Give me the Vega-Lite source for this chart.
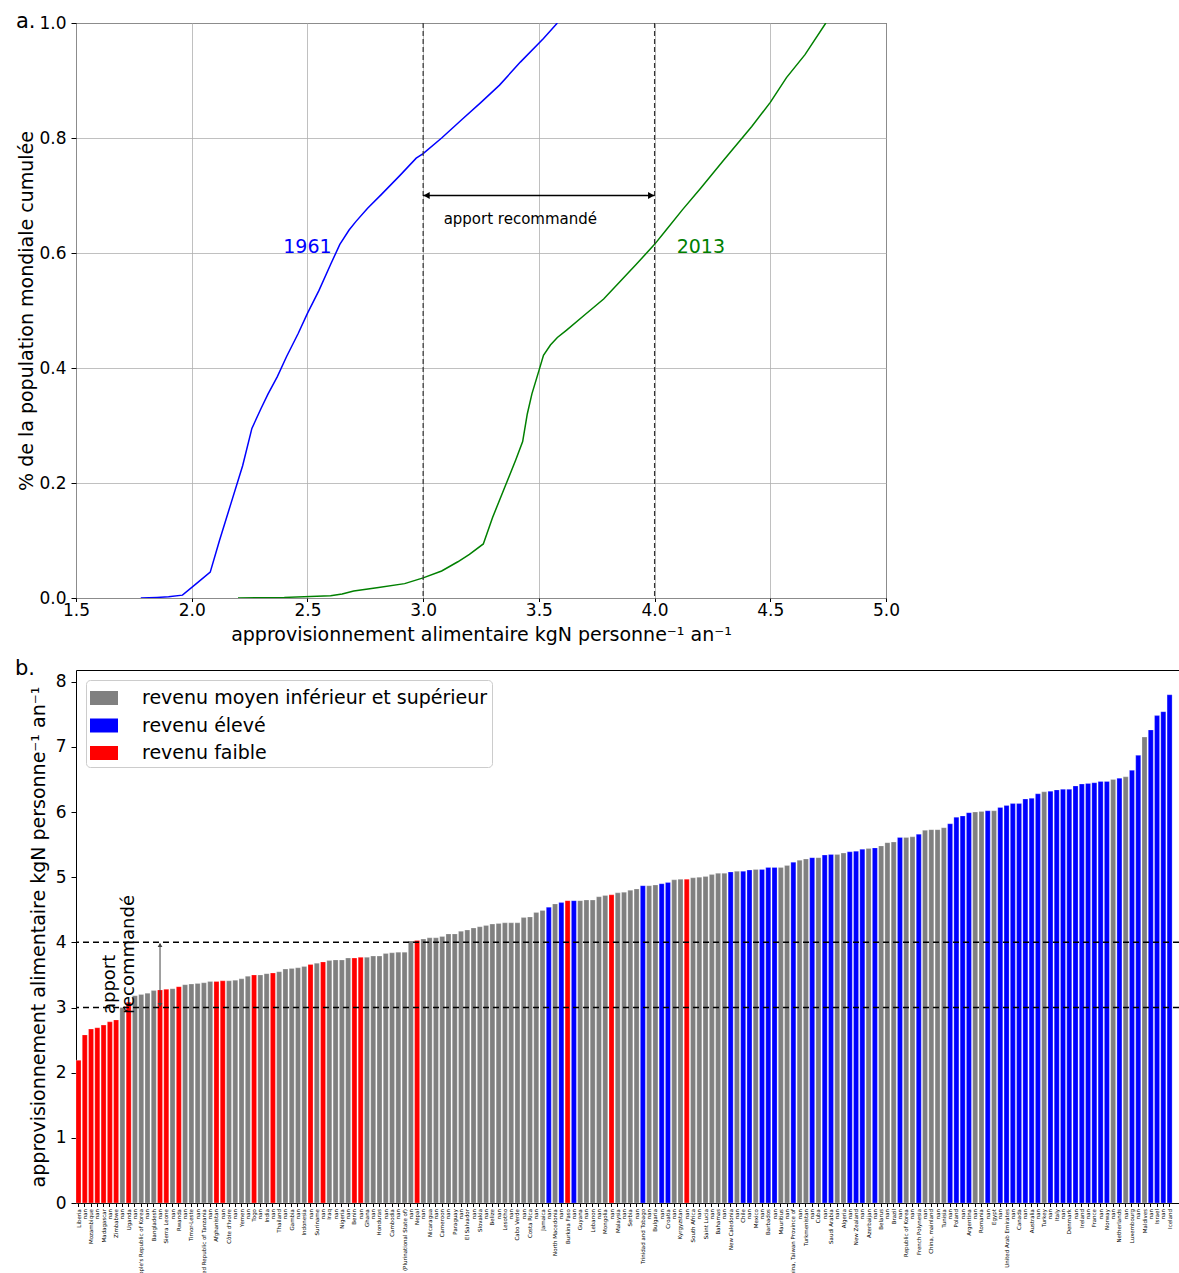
{
  "$schema": "https://vega.github.io/schema/vega-lite/v6.json",
  "padding": {"left": 14, "top": 10, "right": 0, "bottom": 0},
  "bounds": "flush",
  "spacing": 72,
  "resolve": {"scale": {"color": "independent", "x": "independent", "y": "independent"}, "legend": {"color": "independent"}},
  "config": {
    "font": "DejaVu Sans",
    "view": {"stroke": "black", "strokeWidth": 1},
    "axis": {"domain": false, "labelFlush": false, "tickColor": "black", "tickSize": 3.5, "tickWidth": 1, "labelColor": "black", "titleColor": "black", "labelFontSize": 17, "titleFontSize": 19, "titleFontWeight": "normal", "labelPadding": 3.5, "gridColor": "#b0b0b0", "gridWidth": 0.8},
    "axisY": {"tickSize": 5, "labelPadding": 5},
    "title": {"fontSize": 21, "fontWeight": "normal", "color": "black"}
  },
  "vconcat": [
    {
      "width": 810,
      "height": 575,
      "title": {"text": "a.", "anchor": "start", "frame": "group", "dx": -60, "offset": -18},
      "layer": [
        {
          "data": {"values": [
            {"year": "1961", "x": 1.78, "y": 0.0},
            {"year": "1961", "x": 1.85, "y": 0.001},
            {"year": "1961", "x": 1.9, "y": 0.002},
            {"year": "1961", "x": 1.96, "y": 0.005},
            {"year": "1961", "x": 2.02, "y": 0.025},
            {"year": "1961", "x": 2.08, "y": 0.045},
            {"year": "1961", "x": 2.12, "y": 0.1},
            {"year": "1961", "x": 2.17, "y": 0.165},
            {"year": "1961", "x": 2.22, "y": 0.23},
            {"year": "1961", "x": 2.26, "y": 0.295},
            {"year": "1961", "x": 2.3, "y": 0.33},
            {"year": "1961", "x": 2.33, "y": 0.355},
            {"year": "1961", "x": 2.37, "y": 0.385},
            {"year": "1961", "x": 2.41, "y": 0.42},
            {"year": "1961", "x": 2.46, "y": 0.46},
            {"year": "1961", "x": 2.5, "y": 0.495},
            {"year": "1961", "x": 2.55, "y": 0.535},
            {"year": "1961", "x": 2.6, "y": 0.58},
            {"year": "1961", "x": 2.64, "y": 0.615},
            {"year": "1961", "x": 2.68, "y": 0.64},
            {"year": "1961", "x": 2.71, "y": 0.655},
            {"year": "1961", "x": 2.76, "y": 0.678},
            {"year": "1961", "x": 2.82, "y": 0.702},
            {"year": "1961", "x": 2.9, "y": 0.735},
            {"year": "1961", "x": 2.97, "y": 0.765},
            {"year": "1961", "x": 3.0, "y": 0.773},
            {"year": "1961", "x": 3.08, "y": 0.8},
            {"year": "1961", "x": 3.17, "y": 0.833},
            {"year": "1961", "x": 3.25, "y": 0.862},
            {"year": "1961", "x": 3.33, "y": 0.892},
            {"year": "1961", "x": 3.42, "y": 0.932},
            {"year": "1961", "x": 3.52, "y": 0.973},
            {"year": "1961", "x": 3.58, "y": 1.0},
            {"year": "2013", "x": 2.2, "y": 0.0},
            {"year": "2013", "x": 2.4, "y": 0.001},
            {"year": "2013", "x": 2.6, "y": 0.004},
            {"year": "2013", "x": 2.65, "y": 0.007},
            {"year": "2013", "x": 2.7, "y": 0.012},
            {"year": "2013", "x": 2.8, "y": 0.018},
            {"year": "2013", "x": 2.92, "y": 0.025},
            {"year": "2013", "x": 3.0, "y": 0.035},
            {"year": "2013", "x": 3.08, "y": 0.047},
            {"year": "2013", "x": 3.15, "y": 0.063},
            {"year": "2013", "x": 3.2, "y": 0.076},
            {"year": "2013", "x": 3.26, "y": 0.094},
            {"year": "2013", "x": 3.3, "y": 0.14},
            {"year": "2013", "x": 3.35, "y": 0.19},
            {"year": "2013", "x": 3.4, "y": 0.24},
            {"year": "2013", "x": 3.43, "y": 0.272},
            {"year": "2013", "x": 3.45, "y": 0.32},
            {"year": "2013", "x": 3.47, "y": 0.355},
            {"year": "2013", "x": 3.5, "y": 0.395},
            {"year": "2013", "x": 3.52, "y": 0.422},
            {"year": "2013", "x": 3.55, "y": 0.44},
            {"year": "2013", "x": 3.58, "y": 0.453},
            {"year": "2013", "x": 3.62, "y": 0.466},
            {"year": "2013", "x": 3.7, "y": 0.493},
            {"year": "2013", "x": 3.78, "y": 0.52},
            {"year": "2013", "x": 3.85, "y": 0.55},
            {"year": "2013", "x": 3.92, "y": 0.58},
            {"year": "2013", "x": 4.0, "y": 0.615},
            {"year": "2013", "x": 4.05, "y": 0.64},
            {"year": "2013", "x": 4.12, "y": 0.675},
            {"year": "2013", "x": 4.2, "y": 0.713},
            {"year": "2013", "x": 4.3, "y": 0.762},
            {"year": "2013", "x": 4.42, "y": 0.82},
            {"year": "2013", "x": 4.5, "y": 0.862},
            {"year": "2013", "x": 4.57, "y": 0.905},
            {"year": "2013", "x": 4.65, "y": 0.945},
            {"year": "2013", "x": 4.74, "y": 1.0}
          ]},
          "mark": {"type": "line", "strokeWidth": 1.5, "clip": true},
          "encoding": {
            "x": {"field": "x", "type": "quantitative", "scale": {"domain": [1.5, 5.0], "nice": false, "zero": false},
                  "axis": {"title": "approvisionnement alimentaire kgN personne⁻¹ an⁻¹", "values": [1.5, 2.0, 2.5, 3.0, 3.5, 4.0, 4.5, 5.0], "format": ".1f", "grid": true, "labelPadding": 1, "titlePadding": 7}},
            "y": {"field": "y", "type": "quantitative", "scale": {"domain": [0, 1], "nice": false},
                  "axis": {"title": "% de la population mondiale cumulée", "values": [0, 0.2, 0.4, 0.6, 0.8, 1.0], "format": ".1f", "grid": true, "titlePadding": 2}},
            "color": {"field": "year", "type": "nominal", "scale": {"domain": ["1961", "2013"], "range": ["#0000ff", "#008000"]}, "legend": null}
          }
        },
        {
          "data": {"values": [{"x": 3.0}, {"x": 4.0}]},
          "mark": {"type": "rule", "color": "#333333", "strokeWidth": 1.2, "strokeDash": [5, 3]},
          "encoding": {"x": {"field": "x", "type": "quantitative"}}
        },
        {
          "data": {"values": [{"x": 3.0, "x2": 4.0, "y": 0.7}]},
          "mark": {"type": "rule", "color": "black", "strokeWidth": 1.5},
          "encoding": {
            "x": {"field": "x", "type": "quantitative"},
            "x2": {"field": "x2"},
            "y": {"field": "y", "type": "quantitative"}
          }
        },
        {
          "data": {"values": [{"x": 3.015, "y": 0.7, "shape": "triangle-left"}, {"x": 3.985, "y": 0.7, "shape": "triangle-right"}]},
          "mark": {"type": "point", "filled": true, "color": "black", "opacity": 1, "size": 50},
          "encoding": {
            "x": {"field": "x", "type": "quantitative"},
            "y": {"field": "y", "type": "quantitative"},
            "shape": {"field": "shape", "type": "nominal", "scale": null}
          }
        },
        {
          "data": {"values": [{"x": 2.5, "y": 0.61, "year": "1961"}, {"x": 4.2, "y": 0.61, "year": "2013"}]},
          "mark": {"type": "text", "fontSize": 19, "align": "center", "baseline": "middle"},
          "encoding": {
            "x": {"field": "x", "type": "quantitative"},
            "y": {"field": "y", "type": "quantitative"},
            "text": {"field": "year"},
            "color": {"field": "year", "type": "nominal", "legend": null}
          }
        },
        {
          "data": {"values": [{"x": 3.42, "y": 0.659, "label": "apport recommandé"}]},
          "mark": {"type": "text", "fontSize": 15, "align": "center", "baseline": "middle", "color": "black"},
          "encoding": {
            "x": {"field": "x", "type": "quantitative"},
            "y": {"field": "y", "type": "quantitative"},
            "text": {"field": "label"}
          }
        }
      ]
    },
    {
      "width": 1103,
      "height": 533,
      "title": {"text": "b.", "anchor": "start", "frame": "group", "dx": -61, "offset": -9},
      "layer": [
        {
          "data": {"values": [
            {"bar": "000 Liberia", "value": 2.19, "revenu": "revenu faible"},
            {"bar": "001 nan", "value": 2.58, "revenu": "revenu faible"},
            {"bar": "002 Mozambique", "value": 2.67, "revenu": "revenu faible"},
            {"bar": "003 nan", "value": 2.69, "revenu": "revenu faible"},
            {"bar": "004 Madagascar", "value": 2.73, "revenu": "revenu faible"},
            {"bar": "005 nan", "value": 2.78, "revenu": "revenu faible"},
            {"bar": "006 Zimbabwe", "value": 2.81, "revenu": "revenu faible"},
            {"bar": "007 nan", "value": 3.0, "revenu": "revenu moyen inférieur et supérieur"},
            {"bar": "008 Uganda", "value": 3.08, "revenu": "revenu faible"},
            {"bar": "009 nan", "value": 3.18, "revenu": "revenu moyen inférieur et supérieur"},
            {"bar": "010 Democratic People's Republic of Korea", "value": 3.2, "revenu": "revenu moyen inférieur et supérieur"},
            {"bar": "011 nan", "value": 3.22, "revenu": "revenu moyen inférieur et supérieur"},
            {"bar": "012 Bangladesh", "value": 3.26, "revenu": "revenu moyen inférieur et supérieur"},
            {"bar": "013 nan", "value": 3.27, "revenu": "revenu faible"},
            {"bar": "014 Sierra Leone", "value": 3.28, "revenu": "revenu faible"},
            {"bar": "015 nan", "value": 3.29, "revenu": "revenu moyen inférieur et supérieur"},
            {"bar": "016 Rwanda", "value": 3.32, "revenu": "revenu faible"},
            {"bar": "017 nan", "value": 3.35, "revenu": "revenu moyen inférieur et supérieur"},
            {"bar": "018 Timor-Leste", "value": 3.36, "revenu": "revenu moyen inférieur et supérieur"},
            {"bar": "019 nan", "value": 3.37, "revenu": "revenu moyen inférieur et supérieur"},
            {"bar": "020 United Republic of Tanzania", "value": 3.38, "revenu": "revenu moyen inférieur et supérieur"},
            {"bar": "021 nan", "value": 3.4, "revenu": "revenu moyen inférieur et supérieur"},
            {"bar": "022 Afghanistan", "value": 3.4, "revenu": "revenu faible"},
            {"bar": "023 nan", "value": 3.41, "revenu": "revenu faible"},
            {"bar": "024 Côte d'Ivoire", "value": 3.41, "revenu": "revenu moyen inférieur et supérieur"},
            {"bar": "025 nan", "value": 3.42, "revenu": "revenu moyen inférieur et supérieur"},
            {"bar": "026 Yemen", "value": 3.44, "revenu": "revenu moyen inférieur et supérieur"},
            {"bar": "027 nan", "value": 3.48, "revenu": "revenu moyen inférieur et supérieur"},
            {"bar": "028 Togo", "value": 3.5, "revenu": "revenu faible"},
            {"bar": "029 nan", "value": 3.5, "revenu": "revenu moyen inférieur et supérieur"},
            {"bar": "030 India", "value": 3.52, "revenu": "revenu moyen inférieur et supérieur"},
            {"bar": "031 nan", "value": 3.53, "revenu": "revenu faible"},
            {"bar": "032 Thailand", "value": 3.55, "revenu": "revenu moyen inférieur et supérieur"},
            {"bar": "033 nan", "value": 3.59, "revenu": "revenu moyen inférieur et supérieur"},
            {"bar": "034 Gambia", "value": 3.6, "revenu": "revenu moyen inférieur et supérieur"},
            {"bar": "035 nan", "value": 3.61, "revenu": "revenu moyen inférieur et supérieur"},
            {"bar": "036 Indonesia", "value": 3.63, "revenu": "revenu moyen inférieur et supérieur"},
            {"bar": "037 nan", "value": 3.66, "revenu": "revenu faible"},
            {"bar": "038 Suriname", "value": 3.68, "revenu": "revenu moyen inférieur et supérieur"},
            {"bar": "039 nan", "value": 3.7, "revenu": "revenu faible"},
            {"bar": "040 Iraq", "value": 3.72, "revenu": "revenu moyen inférieur et supérieur"},
            {"bar": "041 nan", "value": 3.73, "revenu": "revenu moyen inférieur et supérieur"},
            {"bar": "042 Nigeria", "value": 3.73, "revenu": "revenu moyen inférieur et supérieur"},
            {"bar": "043 nan", "value": 3.76, "revenu": "revenu moyen inférieur et supérieur"},
            {"bar": "044 Benin", "value": 3.76, "revenu": "revenu faible"},
            {"bar": "045 nan", "value": 3.77, "revenu": "revenu faible"},
            {"bar": "046 Ghana", "value": 3.77, "revenu": "revenu moyen inférieur et supérieur"},
            {"bar": "047 nan", "value": 3.79, "revenu": "revenu moyen inférieur et supérieur"},
            {"bar": "048 Honduras", "value": 3.79, "revenu": "revenu moyen inférieur et supérieur"},
            {"bar": "049 nan", "value": 3.83, "revenu": "revenu moyen inférieur et supérieur"},
            {"bar": "050 Cambodia", "value": 3.84, "revenu": "revenu moyen inférieur et supérieur"},
            {"bar": "051 nan", "value": 3.85, "revenu": "revenu moyen inférieur et supérieur"},
            {"bar": "052 Bolivia (Plurinational State of)", "value": 3.85, "revenu": "revenu moyen inférieur et supérieur"},
            {"bar": "053 nan", "value": 4.02, "revenu": "revenu moyen inférieur et supérieur"},
            {"bar": "054 Nepal", "value": 4.03, "revenu": "revenu faible"},
            {"bar": "055 nan", "value": 4.05, "revenu": "revenu moyen inférieur et supérieur"},
            {"bar": "056 Nicaragua", "value": 4.07, "revenu": "revenu moyen inférieur et supérieur"},
            {"bar": "057 nan", "value": 4.07, "revenu": "revenu moyen inférieur et supérieur"},
            {"bar": "058 Cameroon", "value": 4.09, "revenu": "revenu moyen inférieur et supérieur"},
            {"bar": "059 nan", "value": 4.13, "revenu": "revenu moyen inférieur et supérieur"},
            {"bar": "060 Paraguay", "value": 4.13, "revenu": "revenu moyen inférieur et supérieur"},
            {"bar": "061 nan", "value": 4.17, "revenu": "revenu moyen inférieur et supérieur"},
            {"bar": "062 El Salvador", "value": 4.19, "revenu": "revenu moyen inférieur et supérieur"},
            {"bar": "063 nan", "value": 4.22, "revenu": "revenu moyen inférieur et supérieur"},
            {"bar": "064 Slovakia", "value": 4.24, "revenu": "revenu moyen inférieur et supérieur"},
            {"bar": "065 nan", "value": 4.26, "revenu": "revenu moyen inférieur et supérieur"},
            {"bar": "066 Belize", "value": 4.28, "revenu": "revenu moyen inférieur et supérieur"},
            {"bar": "067 nan", "value": 4.29, "revenu": "revenu moyen inférieur et supérieur"},
            {"bar": "068 Lesotho", "value": 4.3, "revenu": "revenu moyen inférieur et supérieur"},
            {"bar": "069 nan", "value": 4.3, "revenu": "revenu moyen inférieur et supérieur"},
            {"bar": "070 Cabo Verde", "value": 4.3, "revenu": "revenu moyen inférieur et supérieur"},
            {"bar": "071 nan", "value": 4.38, "revenu": "revenu moyen inférieur et supérieur"},
            {"bar": "072 Costa Rica", "value": 4.39, "revenu": "revenu moyen inférieur et supérieur"},
            {"bar": "073 nan", "value": 4.46, "revenu": "revenu moyen inférieur et supérieur"},
            {"bar": "074 Jamaica", "value": 4.49, "revenu": "revenu moyen inférieur et supérieur"},
            {"bar": "075 nan", "value": 4.54, "revenu": "revenu élevé"},
            {"bar": "076 North Macedonia", "value": 4.59, "revenu": "revenu moyen inférieur et supérieur"},
            {"bar": "077 nan", "value": 4.61, "revenu": "revenu élevé"},
            {"bar": "078 Burkina Faso", "value": 4.64, "revenu": "revenu faible"},
            {"bar": "079 nan", "value": 4.64, "revenu": "revenu élevé"},
            {"bar": "080 Guyana", "value": 4.64, "revenu": "revenu moyen inférieur et supérieur"},
            {"bar": "081 nan", "value": 4.65, "revenu": "revenu moyen inférieur et supérieur"},
            {"bar": "082 Lebanon", "value": 4.65, "revenu": "revenu moyen inférieur et supérieur"},
            {"bar": "083 nan", "value": 4.7, "revenu": "revenu moyen inférieur et supérieur"},
            {"bar": "084 Mongolia", "value": 4.72, "revenu": "revenu moyen inférieur et supérieur"},
            {"bar": "085 nan", "value": 4.73, "revenu": "revenu faible"},
            {"bar": "086 Malaysia", "value": 4.76, "revenu": "revenu moyen inférieur et supérieur"},
            {"bar": "087 nan", "value": 4.77, "revenu": "revenu moyen inférieur et supérieur"},
            {"bar": "088 Serbia", "value": 4.8, "revenu": "revenu moyen inférieur et supérieur"},
            {"bar": "089 nan", "value": 4.82, "revenu": "revenu moyen inférieur et supérieur"},
            {"bar": "090 Trinidad and Tobago", "value": 4.87, "revenu": "revenu élevé"},
            {"bar": "091 nan", "value": 4.87, "revenu": "revenu moyen inférieur et supérieur"},
            {"bar": "092 Bulgaria", "value": 4.88, "revenu": "revenu moyen inférieur et supérieur"},
            {"bar": "093 nan", "value": 4.9, "revenu": "revenu élevé"},
            {"bar": "094 Croatia", "value": 4.92, "revenu": "revenu élevé"},
            {"bar": "095 nan", "value": 4.96, "revenu": "revenu moyen inférieur et supérieur"},
            {"bar": "096 Kyrgyzstan", "value": 4.97, "revenu": "revenu moyen inférieur et supérieur"},
            {"bar": "097 nan", "value": 4.97, "revenu": "revenu faible"},
            {"bar": "098 South Africa", "value": 4.99, "revenu": "revenu moyen inférieur et supérieur"},
            {"bar": "099 nan", "value": 5.0, "revenu": "revenu moyen inférieur et supérieur"},
            {"bar": "100 Saint Lucia", "value": 5.01, "revenu": "revenu moyen inférieur et supérieur"},
            {"bar": "101 nan", "value": 5.04, "revenu": "revenu moyen inférieur et supérieur"},
            {"bar": "102 Bahamas", "value": 5.06, "revenu": "revenu moyen inférieur et supérieur"},
            {"bar": "103 nan", "value": 5.06, "revenu": "revenu moyen inférieur et supérieur"},
            {"bar": "104 New Caledonia", "value": 5.08, "revenu": "revenu élevé"},
            {"bar": "105 nan", "value": 5.09, "revenu": "revenu moyen inférieur et supérieur"},
            {"bar": "106 Chile", "value": 5.09, "revenu": "revenu élevé"},
            {"bar": "107 nan", "value": 5.11, "revenu": "revenu élevé"},
            {"bar": "108 Mexico", "value": 5.12, "revenu": "revenu moyen inférieur et supérieur"},
            {"bar": "109 nan", "value": 5.12, "revenu": "revenu élevé"},
            {"bar": "110 Barbados", "value": 5.15, "revenu": "revenu élevé"},
            {"bar": "111 nan", "value": 5.15, "revenu": "revenu élevé"},
            {"bar": "112 Mauritius", "value": 5.15, "revenu": "revenu moyen inférieur et supérieur"},
            {"bar": "113 nan", "value": 5.18, "revenu": "revenu moyen inférieur et supérieur"},
            {"bar": "114 China, Taiwan Province of", "value": 5.23, "revenu": "revenu élevé"},
            {"bar": "115 nan", "value": 5.26, "revenu": "revenu moyen inférieur et supérieur"},
            {"bar": "116 Turkmenistan", "value": 5.28, "revenu": "revenu moyen inférieur et supérieur"},
            {"bar": "117 nan", "value": 5.3, "revenu": "revenu élevé"},
            {"bar": "118 Cuba", "value": 5.3, "revenu": "revenu moyen inférieur et supérieur"},
            {"bar": "119 nan", "value": 5.34, "revenu": "revenu élevé"},
            {"bar": "120 Saudi Arabia", "value": 5.35, "revenu": "revenu élevé"},
            {"bar": "121 nan", "value": 5.35, "revenu": "revenu moyen inférieur et supérieur"},
            {"bar": "122 Algeria", "value": 5.37, "revenu": "revenu moyen inférieur et supérieur"},
            {"bar": "123 nan", "value": 5.39, "revenu": "revenu élevé"},
            {"bar": "124 New Zealand", "value": 5.4, "revenu": "revenu élevé"},
            {"bar": "125 nan", "value": 5.43, "revenu": "revenu élevé"},
            {"bar": "126 Azerbaijan", "value": 5.44, "revenu": "revenu moyen inférieur et supérieur"},
            {"bar": "127 nan", "value": 5.45, "revenu": "revenu élevé"},
            {"bar": "128 Belarus", "value": 5.48, "revenu": "revenu moyen inférieur et supérieur"},
            {"bar": "129 nan", "value": 5.53, "revenu": "revenu moyen inférieur et supérieur"},
            {"bar": "130 Brazil", "value": 5.54, "revenu": "revenu moyen inférieur et supérieur"},
            {"bar": "131 nan", "value": 5.61, "revenu": "revenu élevé"},
            {"bar": "132 Republic of Korea", "value": 5.61, "revenu": "revenu moyen inférieur et supérieur"},
            {"bar": "133 nan", "value": 5.62, "revenu": "revenu moyen inférieur et supérieur"},
            {"bar": "134 French Polynesia", "value": 5.66, "revenu": "revenu élevé"},
            {"bar": "135 nan", "value": 5.72, "revenu": "revenu moyen inférieur et supérieur"},
            {"bar": "136 China, mainland", "value": 5.73, "revenu": "revenu moyen inférieur et supérieur"},
            {"bar": "137 nan", "value": 5.73, "revenu": "revenu moyen inférieur et supérieur"},
            {"bar": "138 Tunisia", "value": 5.76, "revenu": "revenu moyen inférieur et supérieur"},
            {"bar": "139 nan", "value": 5.82, "revenu": "revenu élevé"},
            {"bar": "140 Poland", "value": 5.92, "revenu": "revenu élevé"},
            {"bar": "141 nan", "value": 5.94, "revenu": "revenu élevé"},
            {"bar": "142 Argentina", "value": 5.99, "revenu": "revenu élevé"},
            {"bar": "143 nan", "value": 6.0, "revenu": "revenu moyen inférieur et supérieur"},
            {"bar": "144 Romania", "value": 6.01, "revenu": "revenu moyen inférieur et supérieur"},
            {"bar": "145 nan", "value": 6.02, "revenu": "revenu élevé"},
            {"bar": "146 Egypt", "value": 6.02, "revenu": "revenu moyen inférieur et supérieur"},
            {"bar": "147 nan", "value": 6.07, "revenu": "revenu élevé"},
            {"bar": "148 United Arab Emirates", "value": 6.1, "revenu": "revenu élevé"},
            {"bar": "149 nan", "value": 6.13, "revenu": "revenu élevé"},
            {"bar": "150 Canada", "value": 6.13, "revenu": "revenu élevé"},
            {"bar": "151 nan", "value": 6.2, "revenu": "revenu élevé"},
            {"bar": "152 Australia", "value": 6.21, "revenu": "revenu élevé"},
            {"bar": "153 nan", "value": 6.28, "revenu": "revenu élevé"},
            {"bar": "154 Turkey", "value": 6.31, "revenu": "revenu moyen inférieur et supérieur"},
            {"bar": "155 nan", "value": 6.32, "revenu": "revenu élevé"},
            {"bar": "156 Italy", "value": 6.34, "revenu": "revenu élevé"},
            {"bar": "157 nan", "value": 6.35, "revenu": "revenu élevé"},
            {"bar": "158 Denmark", "value": 6.35, "revenu": "revenu élevé"},
            {"bar": "159 nan", "value": 6.4, "revenu": "revenu élevé"},
            {"bar": "160 Ireland", "value": 6.43, "revenu": "revenu élevé"},
            {"bar": "161 nan", "value": 6.44, "revenu": "revenu élevé"},
            {"bar": "162 France", "value": 6.45, "revenu": "revenu élevé"},
            {"bar": "163 nan", "value": 6.47, "revenu": "revenu élevé"},
            {"bar": "164 Norway", "value": 6.47, "revenu": "revenu élevé"},
            {"bar": "165 nan", "value": 6.5, "revenu": "revenu moyen inférieur et supérieur"},
            {"bar": "166 Netherlands", "value": 6.52, "revenu": "revenu élevé"},
            {"bar": "167 nan", "value": 6.54, "revenu": "revenu moyen inférieur et supérieur"},
            {"bar": "168 Luxembourg", "value": 6.64, "revenu": "revenu élevé"},
            {"bar": "169 nan", "value": 6.87, "revenu": "revenu élevé"},
            {"bar": "170 Maldives", "value": 7.15, "revenu": "revenu moyen inférieur et supérieur"},
            {"bar": "171 nan", "value": 7.26, "revenu": "revenu élevé"},
            {"bar": "172 Israel", "value": 7.48, "revenu": "revenu élevé"},
            {"bar": "173 nan", "value": 7.54, "revenu": "revenu élevé"},
            {"bar": "174 Iceland", "value": 7.8, "revenu": "revenu élevé"}
          ]},
          "mark": {"type": "bar", "stroke": "white", "strokeWidth": 0.4, "strokeOpacity": 0.6},
          "encoding": {
            "x": {"field": "bar", "type": "nominal", "sort": "ascending",
                  "scale": {"type": "band", "paddingInner": 0.2, "paddingOuter": 0.55, "align": 0, "round": false},
                  "axis": {"title": null, "labelAngle": 270, "labelFontSize": 5.5, "labelOverlap": false, "labelPadding": 2, "labelLimit": 300,
                           "labelExpr": "substring(datum.value, indexof(datum.value, ' ') + 1)"}},
            "y": {"field": "value", "type": "quantitative", "scale": {"domain": [0, 8.18], "nice": false},
                  "axis": {"title": "approvisionnement alimentaire kgN personne⁻¹ an⁻¹", "values": [0, 1, 2, 3, 4, 5, 6, 7, 8], "format": "d", "grid": false, "titlePadding": 7}},
            "color": {"field": "revenu", "type": "nominal",
                      "scale": {"domain": ["revenu moyen inférieur et supérieur", "revenu élevé", "revenu faible"], "range": ["#808080", "#0000ff", "#ff0000"]},
                      "legend": {"title": null, "orient": "top-left", "offset": 10, "fillColor": "white", "strokeColor": "#cccccc", "cornerRadius": 4, "padding": 4,
                                 "labelFontSize": 19, "labelColor": "black", "labelLimit": 500, "symbolType": "M-1,-0.5H1V0.5H-1Z", "symbolSize": 784, "symbolStrokeWidth": 0,
                                 "symbolOpacity": 1, "rowPadding": 3.5, "labelOffset": 24}}
          }
        },
        {
          "data": {"values": [{"value": 3}, {"value": 4}]},
          "mark": {"type": "rule", "color": "black", "strokeWidth": 1.5, "strokeDash": [6, 4]},
          "encoding": {"y": {"field": "value", "type": "quantitative"}}
        },
        {
          "data": {"values": [{"bar": "013 nan", "value": 3.02, "value2": 3.98}]},
          "mark": {"type": "rule", "color": "#444444", "strokeWidth": 1},
          "encoding": {
            "x": {"field": "bar", "type": "nominal"},
            "y": {"field": "value", "type": "quantitative"},
            "y2": {"field": "value2"}
          }
        },
        {
          "data": {"values": [{"bar": "013 nan", "value": 3.04, "shape": "triangle-down"}, {"bar": "013 nan", "value": 3.96, "shape": "triangle-up"}]},
          "mark": {"type": "point", "filled": true, "color": "#444444", "opacity": 1, "size": 22},
          "encoding": {
            "x": {"field": "bar", "type": "nominal"},
            "y": {"field": "value", "type": "quantitative"},
            "shape": {"field": "shape", "type": "nominal", "scale": null}
          }
        },
        {
          "data": {"values": [{"bar": "005 nan", "value": 2.9, "label": "apport\nrecommandé"}]},
          "mark": {"type": "text", "fontSize": 18, "angle": 270, "align": "left", "baseline": "middle", "lineBreak": "\n", "lineHeight": 19, "color": "black"},
          "encoding": {
            "x": {"field": "bar", "type": "nominal"},
            "y": {"field": "value", "type": "quantitative"},
            "text": {"field": "label"}
          }
        }
      ]
    }
  ]
}
